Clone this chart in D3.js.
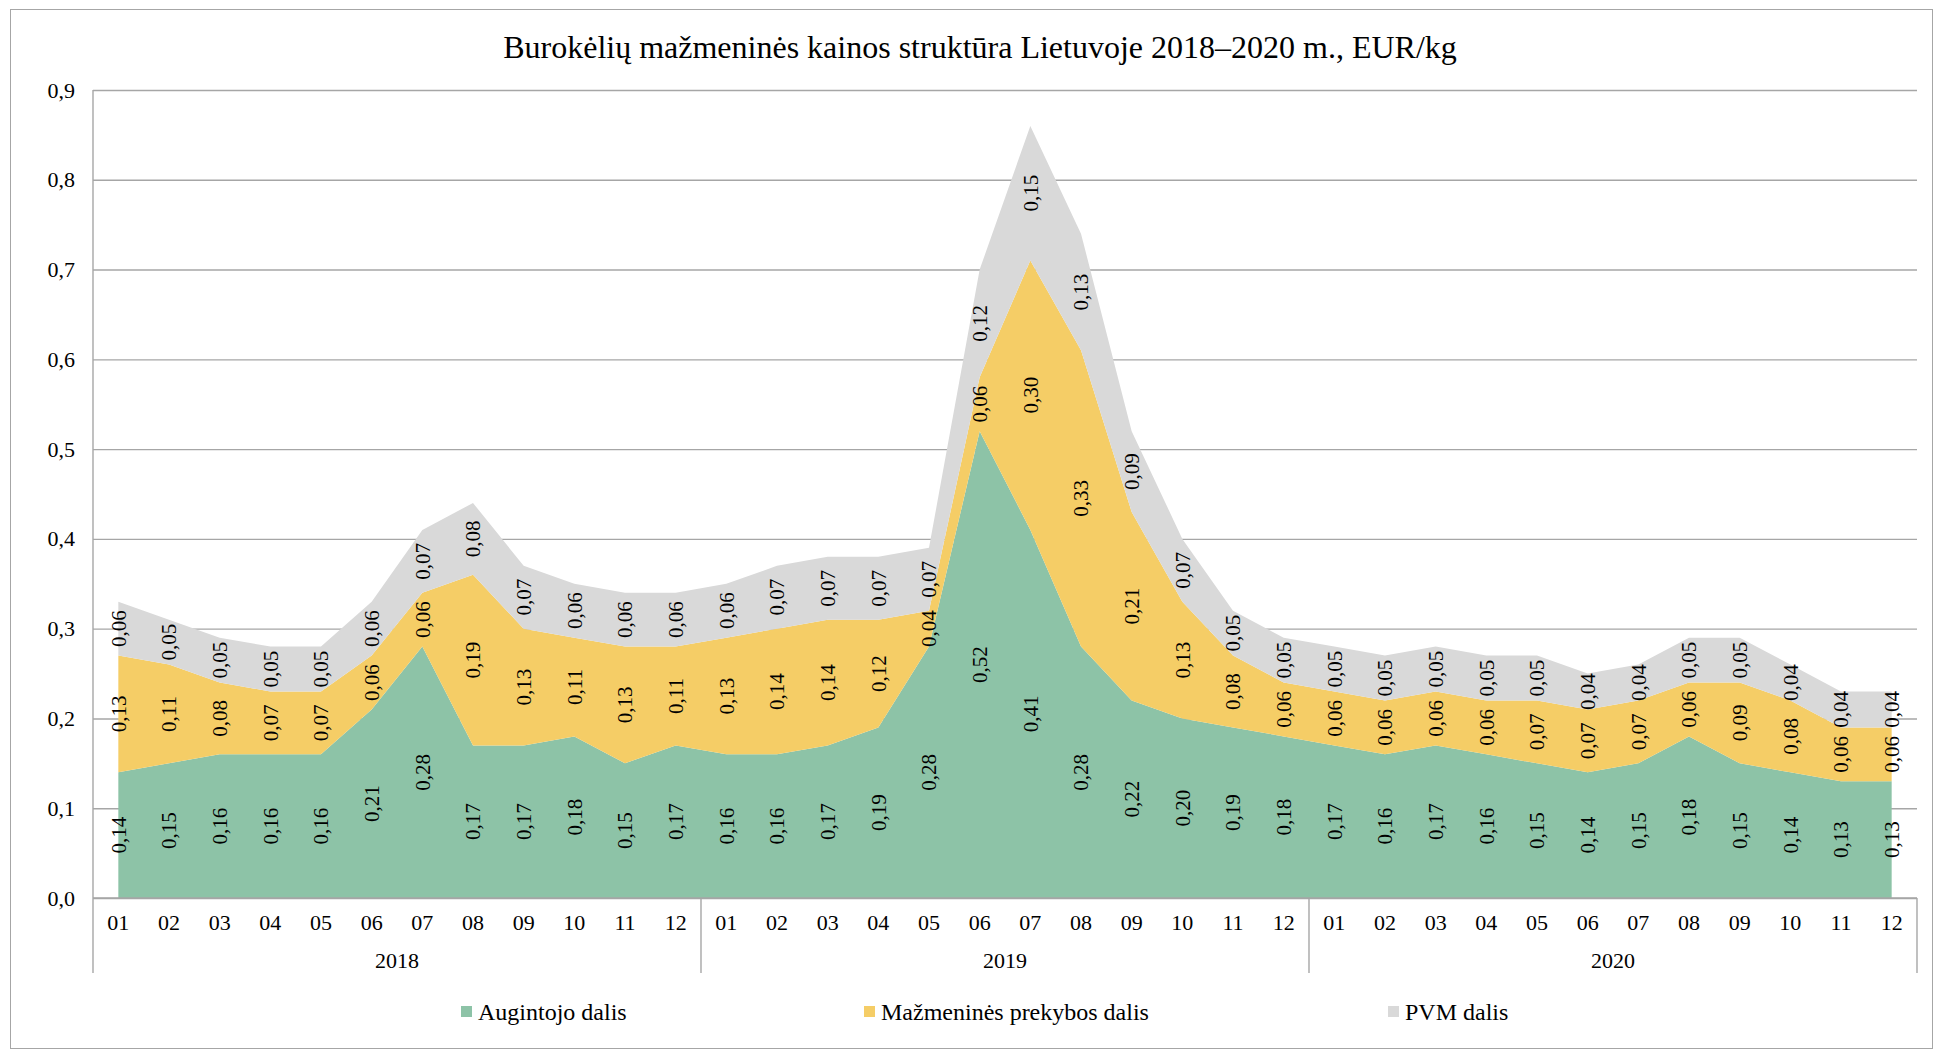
<!DOCTYPE html>
<html>
<head>
<meta charset="utf-8">
<script src="https://cdn.jsdelivr.net/npm/d3@7"></script>
<style>
  html, body { margin: 0; padding: 0; background: #fff; }
  svg { display: block; }
</style>
</head>
<body>
<svg id="chart" width="1939" height="1052"></svg>
<script>
// Kainos struktūra, EUR/kg (mėnesiai 2018–2020)
const years = ["2018", "2019", "2020"];
const months = ["01", "02", "03", "04", "05", "06", "07", "08", "09", "10", "11", "12"];

const augintojo = [
  0.14, 0.15, 0.16, 0.16, 0.16, 0.21, 0.28, 0.17, 0.17, 0.18, 0.15, 0.17,
  0.16, 0.16, 0.17, 0.19, 0.28, 0.52, 0.41, 0.28, 0.22, 0.20, 0.19, 0.18,
  0.17, 0.16, 0.17, 0.16, 0.15, 0.14, 0.15, 0.18, 0.15, 0.14, 0.13, 0.13
];
const mazmenine = [
  0.13, 0.11, 0.08, 0.07, 0.07, 0.06, 0.06, 0.19, 0.13, 0.11, 0.13, 0.11,
  0.13, 0.14, 0.14, 0.12, 0.04, 0.06, 0.30, 0.33, 0.21, 0.13, 0.08, 0.06,
  0.06, 0.06, 0.06, 0.06, 0.07, 0.07, 0.07, 0.06, 0.09, 0.08, 0.06, 0.06
];
const pvm = [
  0.06, 0.05, 0.05, 0.05, 0.05, 0.06, 0.07, 0.08, 0.07, 0.06, 0.06, 0.06,
  0.06, 0.07, 0.07, 0.07, 0.07, 0.12, 0.15, 0.13, 0.09, 0.07, 0.05, 0.05,
  0.05, 0.05, 0.05, 0.05, 0.05, 0.04, 0.04, 0.05, 0.05, 0.04, 0.04, 0.04
];
const seriesNames = ["Augintojo dalis", "Mažmeninės prekybos dalis", "PVM dalis"];
const yTicks = [0, 0.1, 0.2, 0.3, 0.4, 0.5, 0.6, 0.7, 0.8, 0.9];

const colors = ["#8dc3a7", "#f5cd66", "#d9d9d9"];
const keys = ["a", "m", "p"];
const FONT = "'Liberation Serif', 'Times New Roman', serif";

const rows = augintojo.map((v, i) => ({ i, a: v, m: mazmenine[i], p: pvm[i] }));

const svg = d3.select("#chart").attr("font-family", FONT);
const plotLeft = 93, plotRight = 1917, plotTop = 90, plotBottom = 898;
const gridColor = "#a6a6a6";

const addText = (g, size) => g.append("text")
  .style("font-family", FONT)
  .style("font-size", size + "px")
  .attr("fill", "#000");

// chart frame
svg.append("rect")
  .attr("x", 10.5).attr("y", 9.5)
  .attr("width", 1922).attr("height", 1039)
  .attr("fill", "#fff").attr("stroke", "#a6a6a6").attr("stroke-width", 1);

const x = d3.scaleBand().domain(d3.range(rows.length)).range([plotLeft, plotRight]).padding(0);
const cx = i => x(i) + x.bandwidth() / 2;
const y = d3.scaleLinear().domain([0, 0.9]).range([plotBottom, plotTop]);
const fmt = v => d3.format(".1f")(v).replace(".", ",");
const fmt2 = v => d3.format(".2f")(v).replace(".", ",");

// title
addText(svg, 32)
  .attr("x", 980).attr("y", 58)
  .attr("text-anchor", "middle")
  .text("Burokėlių mažmeninės kainos struktūra Lietuvoje 2018–2020 m., EUR/kg");

// horizontal gridlines + y axis labels
const yAxis = d3.axisLeft(y)
  .tickValues(yTicks)
  .tickSize(-(plotRight - plotLeft))
  .tickPadding(18)
  .tickFormat(fmt);
const gy = svg.append("g").attr("transform", `translate(${plotLeft},0)`).call(yAxis);
gy.select(".domain").remove();
gy.selectAll(".tick line").attr("stroke", gridColor).attr("stroke-width", 1.4);
gy.selectAll(".tick text")
  .style("font-family", FONT)
  .style("font-size", "22px")
  .attr("fill", "#000");

// stacked areas
const stack = d3.stack().keys(keys);
const layers = stack(rows);
const area = d3.area()
  .x(d => cx(d.data.i))
  .y0(d => y(d[0]))
  .y1(d => y(d[1]));

svg.append("g").selectAll("path")
  .data(layers)
  .join("path")
  .attr("d", area)
  .attr("fill", (d, k) => colors[k]);

// axis lines
svg.append("line")
  .attr("x1", plotLeft).attr("x2", plotLeft).attr("y1", plotTop).attr("y2", 973)
  .attr("stroke", gridColor).attr("stroke-width", 1.4);
svg.append("line")
  .attr("x1", plotLeft).attr("x2", plotRight).attr("y1", plotBottom).attr("y2", plotBottom)
  .attr("stroke", gridColor).attr("stroke-width", 1.6);

// data labels, rotated, centred in each layer
const gl = svg.append("g");
layers.forEach(layer => {
  layer.forEach(d => {
    const v = d.data[layer.key];
    const px = cx(d.data.i), py = y((d[0] + d[1]) / 2);
    addText(gl, 21)
      .attr("transform", `translate(${px},${py}) rotate(-90)`)
      .attr("text-anchor", "middle")
      .attr("dy", "0.35em")
      .text(fmt2(v));
  });
});

// category axis: months
const gx = svg.append("g");
rows.forEach(r => {
  addText(gx, 22)
    .attr("x", cx(r.i)).attr("y", 922)
    .attr("text-anchor", "middle").attr("dy", "0.35em")
    .text(months[r.i % 12]);
});
// year groups and separators
years.forEach((yr, k) => {
  const x0 = x(k * 12), x1 = x(k * 12 + 11) + x.bandwidth();
  addText(gx, 22)
    .attr("x", (x0 + x1) / 2).attr("y", 960)
    .attr("text-anchor", "middle").attr("dy", "0.35em")
    .text(yr);
  gx.append("line")
    .attr("x1", x1).attr("x2", x1).attr("y1", plotBottom).attr("y2", 973)
    .attr("stroke", gridColor).attr("stroke-width", 1.4);
});

// legend
const legendX = [461, 864, 1388];
const lg = svg.append("g");
seriesNames.forEach((name, k) => {
  lg.append("rect")
    .attr("x", legendX[k]).attr("y", 1006)
    .attr("width", 11).attr("height", 11)
    .attr("fill", colors[k]);
  addText(lg, 24)
    .attr("x", legendX[k] + 17).attr("y", 1012)
    .attr("dy", "0.35em")
    .text(name);
});
</script>
</body>
</html>
